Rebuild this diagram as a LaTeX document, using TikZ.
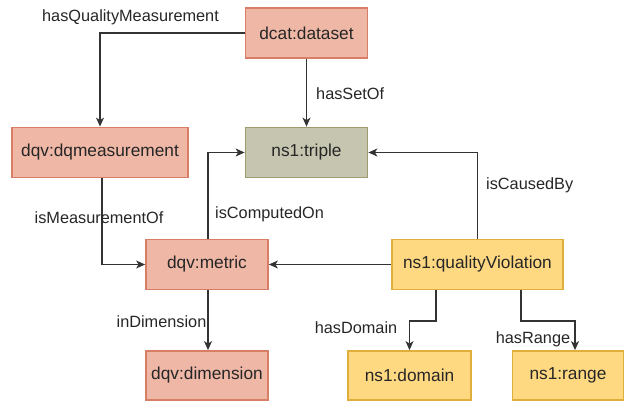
\documentclass[tikz,border=0pt]{standalone}
\usepackage{fontspec}
\setmainfont{Liberation Sans}
\usetikzlibrary{arrows.meta}
\definecolor{salfill}{HTML}{EFB7A6}
\definecolor{saldraw}{HTML}{D87D66}
\definecolor{trifill}{HTML}{C6C5B0}
\definecolor{tridraw}{HTML}{9E9C6E}
\definecolor{yelfill}{HTML}{FFD982}
\definecolor{yeldraw}{HTML}{E0AE3A}
\tikzset{
  box/.style={rectangle, line width=1.8pt, inner sep=0pt, font=\fontsize{17.3}{20}\selectfont, text=black!85},
  sal/.style={box, fill=salfill, draw=saldraw},
  tri/.style={box, fill=trifill, draw=tridraw},
  yel/.style={box, fill=yelfill, draw=yeldraw},
  conn/.style={line width=1.2pt, draw=black!80, -{Stealth[length=9pt,width=8pt,inset=2.5pt]}},
  lbl/.style={font=\fontsize{16.3}{19}\selectfont, text=black!85, inner sep=0pt}
}
\begin{document}
\begin{tikzpicture}[x=1pt,y=-1pt]
\useasboundingbox (0,0) rectangle (626,403);
\node[sal, minimum width=122pt, minimum height=50pt] (ds) at (306.5,33) {dcat:dataset};
\node[sal, minimum width=176pt, minimum height=50pt] (dqm) at (100,152.5) {dqv:dqmeasurement};
\node[tri, minimum width=122pt, minimum height=50pt] (tr) at (306.5,152.5) {ns1:triple};
\node[sal, minimum width=122pt, minimum height=50pt] (me) at (207,264.5) {dqv:metric};
\node[yel, minimum width=171pt, minimum height=50pt] (qv) at (477.5,264.5) {ns1:qualityViolation};
\node[sal, minimum width=122pt, minimum height=49pt] (dim) at (207,375.5) {dqv:dimension};
\node[yel, minimum width=123pt, minimum height=49pt] (dom) at (409.5,375.5) {ns1:domain};
\node[yel, minimum width=111pt, minimum height=49pt] (ra) at (568,375.5) {ns1:range};

\draw[conn] (ds.west) -| (dqm.north);
\draw[conn] (ds.south) -- (tr.north);
\draw[conn] (dqm.south -| 102,0) |- (me.west);
\draw[conn] (me.north -| 208,0) |- (tr.west);
\draw[conn] (qv.north) |- (tr.east);
\draw[conn] (qv.west) -- (me.east);
\draw[conn] (me.south -| 208,0) -- (dim.north -| 208,0);
\coordinate (d1) at (436,321);
\coordinate (r1) at (521,321);
\draw[conn] (qv.south -| d1) -- (d1) -| (dom.north);
\draw[conn] (qv.south -| r1) -- (r1) -| (ra.north -| 575,0);

\node[lbl] (l1) at (130.5,17) {hasQualityMeasurement};
\node[lbl, anchor=west] (l2) at (316,94) {hasSetOf};
\node[lbl] (l3) at (99,218) {isMeasurementOf};
\node[lbl, anchor=west] (l4) at (215,214) {isComputedOn};
\node[lbl, anchor=west] (l5) at (486,185) {isCausedBy};
\node[lbl] (l6) at (161.5,322) {inDimension};
\node[lbl] (l7) at (356,328) {hasDomain};
\node[lbl] (l8) at (533,339) {hasRange};
\end{tikzpicture}
\end{document}
